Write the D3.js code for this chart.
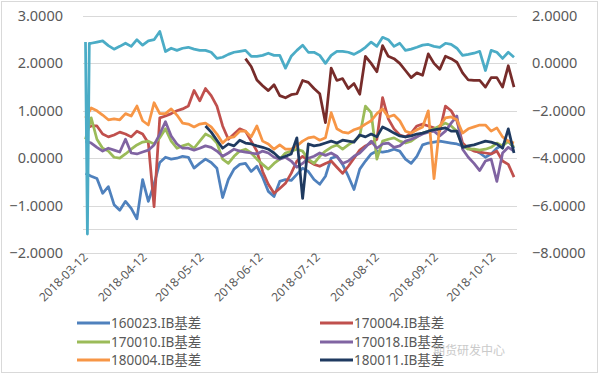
<html>
<head>
<script src="https://d3js.org/d3.v7.min.js"></script>
<style>
  body { margin: 0; background: #fff; }
  text { font-family: "Noto Sans", "Noto Sans CJK SC", sans-serif; fill: #595959; }
</style>
</head>
<body>
<svg id="chart" width="600" height="375"></svg>
<script>
// dates: every 3rd day from 2018-03-12
const startDate = new Date(2018, 2, 12);
const dates = d3.range(76).map(i => d3.timeDay.offset(startDate, 3 * i));
// the aqua series has two extra daily points at the start (the drop on 03-13)
const tealDates = [startDate, d3.timeDay.offset(startDate, 1), d3.timeDay.offset(startDate, 2)].concat(dates.slice(1));

const tickLabels = ["2018-03-12", "2018-04-12", "2018-05-12", "2018-06-12",
                    "2018-07-12", "2018-08-12", "2018-09-12", "2018-10-12"];
const leftTicks = [3, 2, 1, 0, -1, -2];
const rightTicks = [2, 0, -2, -4, -6, -8];

// left axis series
const s160023 = [-0.32, -0.38, -0.43, -0.74, -0.6, -0.98, -1.1, -0.91, -1.06, -1.28, -0.45, -0.91, -0.55, -0.09, 0.02, -0.02, 0.0, 0.04, 0.02, -0.21,
  -0.11, -0.02, -0.09, -0.21, -0.83, -0.45, -0.23, -0.13, -0.11, -0.28, -0.17, -0.4, -0.7, -0.81, -0.49, -0.45, -0.47, -0.34, -0.21, -0.28,
  -0.45, -0.55, -0.38, 0.0, 0.04, -0.13, -0.38, -0.66, -0.23, -0.06, 0.09, 0.15, 0.13, 0.15, 0.19, 0.15, -0.02, -0.11, 0.04, 0.28,
  0.32, 0.34, 0.36, 0.34, 0.32, 0.3, 0.26, 0.21, 0.17, 0.11, 0.02, 0.09, 0.21, 0.28, 0.36, 0.21];
const s170004 = [0.62, 0.68, 0.68, 0.51, 0.45, 0.49, 0.55, 0.51, 0.45, 0.57, 0.51, 0.32, -1.02, 0.85, 0.89, 0.94, 1.0, 1.04, 1.1, 1.43,
  1.21, 1.47, 1.32, 1.1, 0.68, 0.4, 0.51, 0.62, 0.57, 0.36, 0.15, -0.28, -0.55, -0.74, -0.64, -0.53, -0.32, -0.06, 0.04, -0.06,
  -0.13, -0.17, -0.11, -0.06, -0.19, -0.32, -0.17, 0.0, 0.17, 0.26, 0.32, 0.4, 1.28, 0.83, 0.62, 0.49, 0.45, 0.53, 0.68, 0.72,
  0.68, 0.64, 0.57, 1.1, 1.0, 0.79, 0.32, 0.21, 0.15, 0.13, 0.11, 0.09, 0.15, -0.06, -0.13, -0.4];
const s170010 = [0.4, 0.85, 0.4, 0.21, 0.15, 0.02, 0.0, 0.09, 0.19, 0.28, 0.34, 0.36, 0.3, 0.43, 0.62, 0.36, 0.21, 0.26, 0.3, 0.21,
  0.36, 0.51, 0.45, 0.32, -0.02, -0.11, 0.04, 0.15, 0.19, 0.11, -0.02, -0.13, -0.23, -0.11, -0.02, 0.11, 0.15, 0.19, 0.15, -0.02,
  -0.11, 0.04, 0.15, 0.23, 0.28, 0.19, 0.28, 0.36, 0.47, 1.1, 0.96, -0.02, 0.36, 0.4, 0.43, 0.36, 0.32, 0.36, 0.45, 0.53,
  0.57, 0.62, 0.68, 0.74, 0.68, 0.57, 0.26, 0.19, 0.19, 0.17, 0.19, 0.23, 0.32, 0.26, 0.36, 0.23];
const s170018 = [0.36, 0.32, 0.23, 0.15, 0.21, 0.17, 0.13, 0.4, 0.11, 0.09, 0.13, 0.17, 0.28, 0.51, 0.77, 0.47, 0.3, 0.21, 0.21, 0.17,
  0.21, 0.26, 0.23, 0.15, 0.04, 0.11, 0.19, 0.15, 0.13, 0.11, 0.09, 0.15, 0.11, 0.02, -0.02, 0.02, -0.06, -0.19, -0.11, 0.0,
  0.04, 0.11, 0.06, 0.11, 0.04, -0.11, -0.06, 0.04, 0.11, 0.23, 0.36, 0.21, 0.3, 0.32, 0.23, 0.26, 0.36, 0.4, 0.45, 0.51,
  0.55, 0.57, 0.47, 0.57, 0.74, 0.89, 0.19, 0.02, -0.11, -0.26, -0.06, -0.02, -0.49, 0.11, 0.23, 0.15];
const s180004 = [0.85, 1.06, 1.0, 0.91, 0.81, 0.83, 0.81, 0.94, 0.89, 1.1, 0.79, 0.7, 1.17, 0.94, 0.94, 1.04, 0.91, 0.74, 0.72, 0.66,
  0.72, 0.74, 0.66, 0.51, 0.32, 0.43, 0.45, 0.57, 0.57, 0.45, 0.68, 0.36, 0.3, 0.19, 0.28, 0.19, 0.19, 0.26, 0.36, 0.43,
  0.45, 0.38, 0.43, 0.96, 0.62, 0.55, 0.53, 0.6, 0.64, 0.72, 0.79, 0.94, 1.04, 0.87, 0.91, 0.79, 0.57, 0.53, 0.6, 0.66,
  1.0, -0.43, 0.68, 0.85, 0.87, 0.81, 0.53, 0.62, 0.66, 0.7, 0.7, 0.57, 0.64, 0.45, 0.36, 0.32];
const s180011 = [null, null, null, null, null, null, null, null, null, null, null, null, null, null, null, null, null, null, null, null,
  null, 0.68, 0.55, 0.38, 0.21, 0.3, 0.26, 0.38, 0.32, 0.3, 0.26, 0.23, 0.19, 0.11, 0.0, 0.04, 0.09, 0.43, -0.85, 0.3,
  0.26, 0.28, 0.32, 0.36, 0.32, 0.38, 0.36, 0.34, 0.49, 0.45, 0.51, 0.45, 0.66, 0.6, 0.53, 0.47, 0.45, 0.47, 0.51, 0.53,
  0.57, 0.6, 0.62, 0.64, 0.57, 0.57, 0.23, 0.26, 0.28, 0.32, 0.36, 0.34, 0.3, 0.21, 0.62, 0.11];

// right axis series (no legend entry)
const sTeal = [0.9, -7.2, 0.85, 0.85, 0.9, 0.95, 0.75, 0.6, 0.72, 0.85, 0.72, 1.0, 0.77, 0.95, 1.0, 1.35, 0.5, 0.64, 0.55, 0.64, 0.68, 0.6,
  0.55, 0.55, 0.47, 0.21, 0.26, 0.38, 0.47, 0.51, 0.55, 0.3, 0.3, 0.34, 0.43, 0.34, 0.34, -0.2, 0.3, 0.55, 0.77, 0.47,
  0.47, 0.34, 0.0, 0.34, 0.51, 0.51, 0.47, 0.38, 0.51, 0.68, 0.9, 0.72, 1.1, 1.0, 0.72, 0.85, 0.55, 0.6, 0.68, 0.77,
  0.8, 0.72, 0.68, 0.85, 0.8, 0.64, 0.34, 0.38, 0.43, 0.51, -0.3, 0.55, 0.47, 0.21, 0.47, 0.26];
const sMaroon = [null, null, null, null, null, null, null, null, null, null, null, null, null, null, null, null, null, null, null, null,
  null, null, null, null, null, null, null, null, 0.2, -0.13, -0.7, -0.94, -1.15, -0.9, -1.36, -1.45, -1.32, -1.28, -0.72, -0.8,
  -1.06, -1.28, -2.5, -0.2, -0.72, -0.64, -1.06, -0.85, -1.3, 0.3, 0.0, -0.35, 0.75, 0.3, 0.2, 0.0, -0.3, -0.6, -0.4, -0.5,
  0.4, 0.0, -0.25, 0.3, 0.2, 0.05, -0.4, -0.7, -0.72, -0.72, -1.0, -0.6, -0.6, -1.0, -0.1, -1.0];

const names = ["160023.IB基差", "170004.IB基差", "170010.IB基差", "170018.IB基差", "180004.IB基差", "180011.IB基差"];
const colors = ["#4F81BD", "#C0504D", "#9BBB59", "#8064A2", "#F79646", "#1F3A60"];
const leftSeries = [s160023, s170004, s170010, s170018, s180004, s180011];

const svg = d3.select('svg#chart');

svg.append('rect')
  .attr('x', 1.5).attr('y', 1.5).attr('width', 596).attr('height', 371)
  .attr('fill', '#fff').attr('stroke', '#d9d9d9');

const plotLeft = 83, plotRight = 517;
const parse = d3.timeParse("%Y-%m-%d");

const xScale = d3.scaleTime()
  .domain([startDate, dates[dates.length - 1]])
  .range([85.5, 514]);
const yLeft = d3.scaleLinear().domain([-2, 3]).range([253, 16]);
const yRight = d3.scaleLinear().domain([-8, 2]).range([253, 16]);

// gridlines
svg.append('g')
  .selectAll('line')
  .data(leftTicks.concat([-1.5]))
  .join('line')
  .attr('x1', plotLeft).attr('x2', plotRight)
  .attr('y1', d => Math.round(yLeft(d)) + 0.5)
  .attr('y2', d => Math.round(yLeft(d)) + 0.5)
  .attr('stroke', '#d9d9d9');

// left axis labels
svg.append('g')
  .selectAll('text')
  .data(leftTicks)
  .join('text')
  .attr('x', 63)
  .attr('y', d => yLeft(d))
  .attr('dy', '0.35em')
  .attr('text-anchor', 'end')
  .style('font-size', '14.5px')
  .text(d => d3.format('.4f')(d));

// right axis labels
svg.append('g')
  .selectAll('text')
  .data(rightTicks)
  .join('text')
  .attr('x', 532)
  .attr('y', d => yRight(d))
  .attr('dy', '0.35em')
  .style('font-size', '14.5px')
  .text(d => d3.format('.4f')(d));

// x axis labels, rotated
svg.append('g')
  .selectAll('text')
  .data(tickLabels)
  .join('text')
  .attr('transform', d => `translate(${xScale(parse(d)) + 3},${258}) rotate(-45)`)
  .attr('text-anchor', 'end')
  .style('font-size', '12px')
  .text(d => d);

// lines
const lineLeft = d3.line()
  .defined(d => d != null)
  .x((d, i) => xScale(dates[i]))
  .y(d => yLeft(d));
const lineRight = d3.line()
  .defined(d => d != null)
  .x((d, i) => xScale(dates[i]))
  .y(d => yRight(d));
const lineTeal = d3.line()
  .x((d, i) => xScale(tealDates[i]))
  .y(d => yRight(d));

leftSeries.forEach((s, i) => {
  svg.append('path')
    .attr('d', lineLeft(s))
    .attr('fill', 'none')
    .attr('stroke', colors[i])
    .attr('stroke-width', 2.75)
    .attr('stroke-linejoin', 'round');
});
svg.append('path')
  .attr('d', lineTeal(sTeal))
  .attr('fill', 'none').attr('stroke', '#4BACC6')
  .attr('stroke-width', 2.75).attr('stroke-linejoin', 'round');
svg.append('path')
  .attr('d', lineRight(sMaroon))
  .attr('fill', 'none').attr('stroke', '#772C2A')
  .attr('stroke-width', 2.75).attr('stroke-linejoin', 'round');

// legend
const legend = svg.append('g');
names.forEach((n, i) => {
  const lx = i % 2 === 0 ? 77 : 320;
  const ly = [323, 342, 360][Math.floor(i / 2)];
  legend.append('line')
    .attr('x1', lx).attr('x2', lx + 33)
    .attr('y1', ly).attr('y2', ly)
    .attr('stroke', colors[i]).attr('stroke-width', 3);
  legend.append('text')
    .attr('x', lx + 34).attr('y', ly)
    .attr('dy', '0.35em')
    .style('font-size', '13.5px')
    .text(n);
});

// faint watermark
svg.append('text')
  .attr('x', 433).attr('y', 351)
  .attr('dy', '0.35em')
  .style('font-size', '12px')
  .style('fill', '#bdbdbd')
  .style('opacity', 0.8)
  .text('期货研发中心');
</script>
</body>
</html>
